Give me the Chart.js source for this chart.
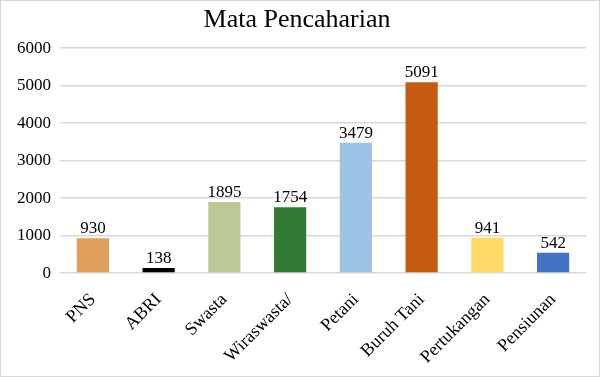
<!DOCTYPE html>
<html>
<head>
<meta charset="utf-8">
<script src="https://cdn.jsdelivr.net/npm/chart.js@4"></script>
<style>
  html, body { margin: 0; padding: 0; background: #fff; }
  #wrap { position: relative; width: 598px; height: 375px; border: 1px solid #d9d9d9; }
</style>
</head>
<body>
<div id="wrap"><canvas id="jobChart"></canvas></div>
<script>
// data
var jobs = ["PNS", "ABRI", "Swasta", "Wiraswasta/", "Petani", "Buruh Tani", "Pertukangan", "Pensiunan"];
var people = [930, 138, 1895, 1754, 3479, 5091, 941, 542];
var barColors = ["#DF9F5B", "#000000", "#BDC995", "#327B37", "#9DC3E6", "#C55A11", "#FFD966", "#4472C4"];

var serif = "'Liberation Serif', 'Times New Roman', serif";

// simple value labels above each bar
var valueLabels = {
    id: "valueLabels",
    afterDatasetsDraw(chart) {
        let c = chart.ctx;
        let meta = chart.getDatasetMeta(0);
        c.save();
        c.font = "17px " + serif;
        c.fillStyle = "#000";
        c.textAlign = "center";
        c.textBaseline = "bottom";
        meta.data.forEach((bar, i) => {
            c.fillText(people[i], bar.x, bar.y - 1);
        });
        c.restore();
    }
};

let ctx = document.getElementById("jobChart").getContext("2d");
new Chart(ctx, {
    type: "bar",
    data: {
        labels: jobs,
        datasets: [{
            data: people,
            backgroundColor: barColors,
            categoryPercentage: 1,
            barPercentage: 0.49,
        }],
    },
    plugins: [valueLabels],
    options: {
        animation: false,
        responsive: true,
        maintainAspectRatio: false,
        layout: {
            padding: { left: 7, right: 13, top: 0, bottom: 0 },
        },
        scales: {
            x: {
                grid: { display: false },
                border: { display: false },
                ticks: {
                    color: "#000",
                    font: { family: serif, size: 18 },
                    maxRotation: 45,
                    minRotation: 45,
                    padding: 8,
                },
            },
            y: {
                min: 0,
                max: 6000,
                border: { display: false },
                grid: { color: "#d9d9d9", lineWidth: 1.5, drawTicks: false },
                ticks: {
                    stepSize: 1000,
                    color: "#000",
                    font: { family: serif, size: 17 },
                    padding: 9,
                    callback: (v) => String(v),
                },
            },
        },
        plugins: {
            legend: { display: false },
            tooltip: { enabled: false },
            title: {
                display: true,
                text: "Mata Pencaharian",
                color: "#000",
                font: { family: serif, size: 26, weight: "normal" },
                padding: { top: 4, bottom: 12 },
            },
        },
    },
});
</script>
</body>
</html>
